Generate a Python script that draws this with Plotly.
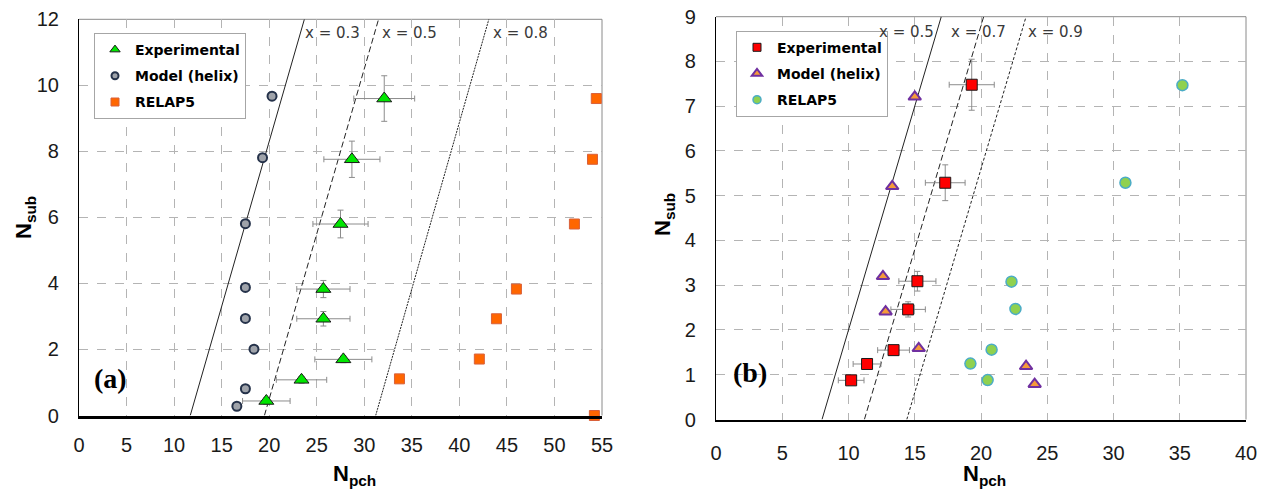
import plotly.graph_objects as go

# ---------------- data: panel (a) ----------------
a_exp_x = [32.1, 28.7, 27.5, 25.7, 25.7, 27.8, 23.4, 19.7]
a_exp_y = [9.6, 7.76, 5.8, 3.83, 2.93, 1.70, 1.08, 0.44]
a_exp_xerr = [3.2, 2.95, 2.9, 2.8, 2.8, 3.0, 2.65, 2.5]
a_exp_yerr = [0.69, 0.55, 0.42, 0.26, 0.22, 0.1, 0.1, 0.1]
a_model_x = [20.3, 19.3, 17.5, 17.5, 17.5, 18.4, 17.5, 16.6]
a_model_y = [9.67, 7.81, 5.81, 3.88, 2.94, 2.01, 0.81, 0.28]
a_relap_x = [54.4, 54.0, 52.1, 46.0, 43.9, 42.1, 33.7, 54.2]
a_relap_y = [9.6, 7.76, 5.8, 3.83, 2.93, 1.71, 1.11, 0.0]
a_line_y = [0, 12]
a_line_x03 = [11.7, 23.7]
a_line_x05 = [19.5, 31.5]
a_line_x08 = [31.2, 43.1]
a_xticks = [0, 5, 10, 15, 20, 25, 30, 35, 40, 45, 50, 55]
a_yticks = [0, 2, 4, 6, 8, 10, 12]

# ---------------- data: panel (b) ----------------
b_exp_x = [19.3, 17.3, 15.2, 14.5, 13.4, 11.4, 10.2]
b_exp_y = [7.48, 5.29, 3.09, 2.46, 1.55, 1.24, 0.875]
b_exp_xerr = [1.7, 1.5, 1.4, 1.3, 1.2, 1.05, 0.97]
b_exp_yerr = [0.57, 0.40, 0.22, 0.17, 0.08, 0.06, 0.05]
b_model_x = [15.0, 13.3, 12.6, 12.8, 15.3, 23.4, 24.05]
b_model_y = [7.21, 5.21, 3.20, 2.41, 1.59, 1.19, 0.79]
b_relap_x = [35.2, 30.9, 22.3, 22.6, 20.8, 19.2, 20.5]
b_relap_y = [7.47, 5.29, 3.08, 2.47, 1.56, 1.25, 0.88]
b_line_y = [0, 9]
b_line_x05 = [8.0, 17.0]
b_line_x07 = [11.2, 20.2]
b_line_x09 = [14.4, 23.4]
b_xticks = [0, 5, 10, 15, 20, 25, 30, 35, 40]
b_yticks = [0, 1, 2, 3, 4, 5, 6, 7, 8, 9]

series_names = ["Experimental", "Model (helix)", "RELAP5"]

W, H = 1265, 489
ERR = "#8c8c8c"

# marker styles
A_EXP = dict(symbol="triangle-up", color="#00e600", line=dict(color="#1a1a1a", width=1))
A_MOD = dict(symbol="circle", color="#9fa3aa", line=dict(color="#25324a", width=2))
A_REL = dict(symbol="square", color="#ff6600", line=dict(color="#d9603a", width=1))
B_EXP = dict(symbol="square", color="#ff0000", line=dict(color="#1a1a1a", width=1))
B_MOD = dict(symbol="triangle-up", color="#f59a3a", line=dict(color="#7030a0", width=2))
B_REL = dict(symbol="circle", color="#8fd14f", line=dict(color="#4bacc6", width=1.5))

fig = go.Figure()

# ----- quality lines -----
for xs, dash in [(a_line_x03, "solid"), (a_line_x05, "6px,3px"), (a_line_x08, "2px,1px")]:
    fig.add_trace(go.Scatter(x=xs, y=a_line_y, mode="lines", xaxis="x", yaxis="y",
                             line=dict(color="#222222", width=1, dash=dash),
                             showlegend=False, hoverinfo="skip"))
for xs, dash in [(b_line_x05, "solid"), (b_line_x07, "6px,3px"), (b_line_x09, "3px,2px")]:
    fig.add_trace(go.Scatter(x=xs, y=b_line_y, mode="lines", xaxis="x2", yaxis="y2",
                             line=dict(color="#222222", width=1, dash=dash),
                             showlegend=False, hoverinfo="skip"))

# ----- panel (a) series -----
fig.add_trace(go.Scatter(
    x=a_exp_x, y=a_exp_y, mode="markers", name=series_names[0], xaxis="x", yaxis="y",
    showlegend=False,
    error_x=dict(type="data", array=a_exp_xerr, color=ERR, thickness=1, width=3),
    error_y=dict(type="data", array=a_exp_yerr, color=ERR, thickness=1, width=3),
    marker=dict(size=13, **A_EXP)))
fig.add_trace(go.Scatter(
    x=a_model_x, y=a_model_y, mode="markers", name=series_names[1], xaxis="x", yaxis="y",
    showlegend=False, marker=dict(size=9, **A_MOD)))
fig.add_trace(go.Scatter(
    x=a_relap_x, y=a_relap_y, mode="markers", name=series_names[2], xaxis="x", yaxis="y",
    showlegend=False, cliponaxis=False, marker=dict(size=10, **A_REL)))

# ----- panel (b) series -----
fig.add_trace(go.Scatter(
    x=b_exp_x, y=b_exp_y, mode="markers", name=series_names[0], xaxis="x2", yaxis="y2",
    showlegend=False,
    error_x=dict(type="data", array=b_exp_xerr, color=ERR, thickness=1, width=3),
    error_y=dict(type="data", array=b_exp_yerr, color=ERR, thickness=1, width=3),
    marker=dict(size=11, **B_EXP)))
fig.add_trace(go.Scatter(
    x=b_model_x, y=b_model_y, mode="markers", name=series_names[1], xaxis="x2", yaxis="y2",
    showlegend=False, marker=dict(size=11, **B_MOD)))
fig.add_trace(go.Scatter(
    x=b_relap_x, y=b_relap_y, mode="markers", name=series_names[2], xaxis="x2", yaxis="y2",
    showlegend=False, marker=dict(size=11, **B_REL)))

# ----- legend entries (smaller symbols, as in the reference) -----
for i, (nm, st, sz) in enumerate(zip(series_names, [A_EXP, A_MOD, A_REL], [9, 7, 8])):
    fig.add_trace(go.Scatter(x=[None], y=[None], mode="markers", name=nm, xaxis="x", yaxis="y",
                             legend="legend", legendgroup=f"a{i}", marker=dict(size=sz, **st)))
for i, (nm, st, sz) in enumerate(zip(series_names, [B_EXP, B_MOD, B_REL], [8, 9, 8])):
    fig.add_trace(go.Scatter(x=[None], y=[None], mode="markers", name=nm, xaxis="x2", yaxis="y2",
                             legend="legend2", legendgroup=f"b{i}", marker=dict(size=sz, **st)))

TICKFONT = dict(family="Liberation Sans, Arial, sans-serif", size=20, color="#1a1a1a")
GRID = dict(showgrid=True, gridcolor="#b4b4b4", gridwidth=1, griddash="dash", zeroline=False,
            ticks="", tickfont=TICKFONT, showline=True, linecolor="#000000", automargin=False)
LEGFONT = dict(family="DejaVu Sans", size=14, color="#000000", weight="bold")

fig.update_layout(
    template="none",
    width=W, height=H, margin=dict(l=0, r=0, t=0, b=0, pad=0),
    paper_bgcolor="white", plot_bgcolor="white", showlegend=True,
    xaxis=dict(domain=[79 / W, 602 / W], range=[0, 55], tickvals=a_xticks, anchor="y",
               linewidth=2.5, ticklabelstandoff=10, **GRID),
    yaxis=dict(domain=[1 - 415.5 / H, 1 - 19.3 / H], range=[0, 12], tickvals=a_yticks, anchor="x",
               linewidth=1.2, ticklabelstandoff=15, **GRID),
    xaxis2=dict(domain=[716 / W, 1246 / W], range=[0, 40], tickvals=b_xticks, anchor="y2",
                linewidth=2, ticklabelstandoff=14, **GRID),
    yaxis2=dict(domain=[1 - 419.5 / H, 1 - 16.7 / H], range=[0, 9], tickvals=b_yticks, anchor="x2",
                linewidth=1.2, ticklabelstandoff=15, **GRID),
    legend=dict(x=94 / W, y=1 - 33 / H, xanchor="left", yanchor="top",
                bgcolor="white", bordercolor="#a6a6a6", borderwidth=1, font=LEGFONT,
                traceorder="grouped", tracegroupgap=5, itemwidth=30),
    legend2=dict(x=736 / W, y=1 - 30.7 / H, xanchor="left", yanchor="top",
                 bgcolor="white", bordercolor="#a6a6a6", borderwidth=1, font=LEGFONT,
                 traceorder="grouped", tracegroupgap=5, itemwidth=30),
)

# gray top / right frame
for xr, yr in [("x domain", "y domain"), ("x2 domain", "y2 domain")]:
    fig.add_shape(type="line", xref=xr, yref=yr, x0=0, x1=1, y0=1, y1=1,
                  line=dict(color="#8a8a8a", width=1), layer="below")
    fig.add_shape(type="line", xref=xr, yref=yr, x0=1, x1=1, y0=0, y1=1,
                  line=dict(color="#8a8a8a", width=1), layer="below")

LBL = dict(family="DejaVu Sans", size=15, color="#3a3a3a")
for txt, xv in [("x = 0.3", 26.7), ("x = 0.5", 34.8), ("x = 0.8", 46.4)]:
    fig.add_annotation(text=txt, x=xv, y=11.6, xref="x", yref="y", showarrow=False, font=LBL,
                       xanchor="center", yanchor="middle")
for txt, xv in [("x = 0.5", 14.4), ("x = 0.7", 19.8), ("x = 0.9", 25.6)]:
    fig.add_annotation(text=txt, x=xv, y=8.65, xref="x2", yref="y2", showarrow=False, font=LBL,
                       xanchor="center", yanchor="middle")

CEN = dict(xref="paper", yref="paper", showarrow=False, xanchor="center", yanchor="middle")
TITLE = dict(family="Liberation Sans, Arial, sans-serif", size=22, color="#000000")
fig.add_annotation(text="<b>N<sub>pch</sub></b>", x=354 / W, y=1 - 475 / H, font=TITLE, **CEN)
fig.add_annotation(text="<b>N<sub>pch</sub></b>", x=985 / W, y=1 - 475 / H, font=TITLE, **CEN)
fig.add_annotation(text="<b>N<sub>sub</sub></b>", x=25 / W, y=1 - 218 / H, font=TITLE, textangle=-90, **CEN)
fig.add_annotation(text="<b>N<sub>sub</sub></b>", x=664 / W, y=1 - 215 / H, font=TITLE, textangle=-90, **CEN)

PANEL = dict(family="Liberation Serif, serif", size=28, color="#000000")
fig.add_annotation(text="<b>(a)</b>", x=110 / W, y=1 - 378 / H, font=PANEL, **CEN)
fig.add_annotation(text="<b>(b)</b>", x=750 / W, y=1 - 372 / H, font=PANEL, **CEN)

fig.write_html("out.html", config={"displayModeBar": False},
               post_script="document.body.style.margin='0px';")
